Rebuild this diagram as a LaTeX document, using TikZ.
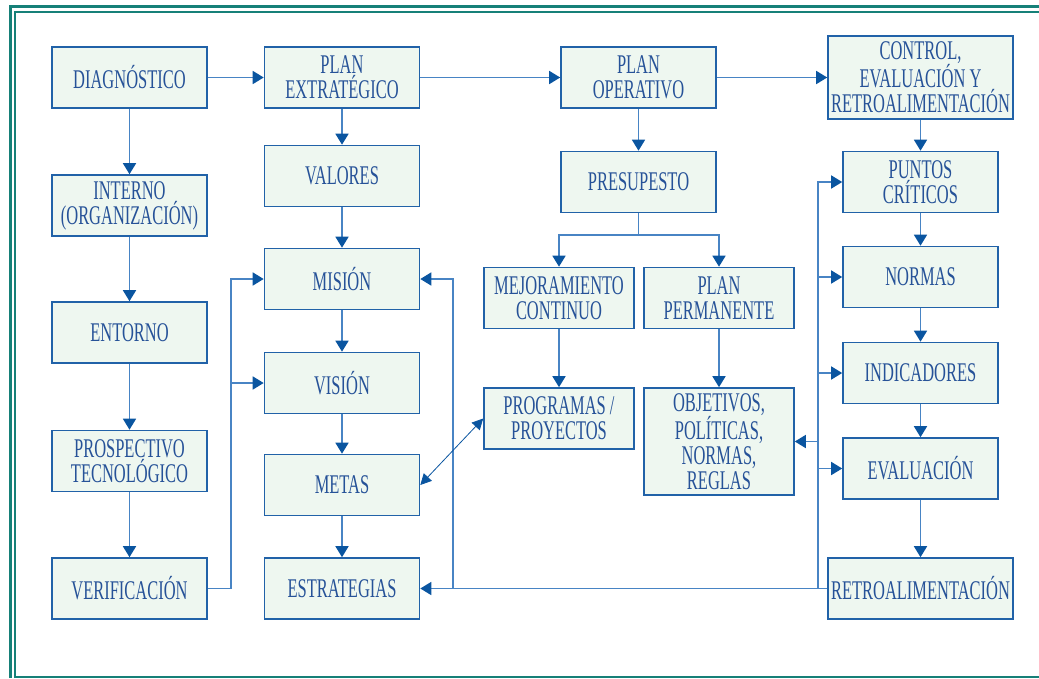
\documentclass[tikz,border=0pt]{standalone}
\usepackage{fontspec}
\newfontfamily\condserif[FakeStretch=0.61]{Liberation Serif}
\usetikzlibrary{arrows.meta}
\definecolor{boxfill}{RGB}{238,247,240}
\definecolor{boxline}{RGB}{33,98,168}
\definecolor{linkblue}{RGB}{72,132,196}
\definecolor{tipblue}{RGB}{10,85,160}
\definecolor{txtblue}{RGB}{38,82,152}
\definecolor{frameteal}{RGB}{22,128,120}
\newcommand\boxtext{\condserif\fontsize{27}{25}\selectfont}
\begin{document}
\begin{tikzpicture}[x=1pt,y=-1pt,
  box/.style={draw=boxline, line width=1.6pt, fill=boxfill, text=txtblue,
    minimum width=155pt, minimum height=61pt, inner sep=0pt, align=center, font=\boxtext},
  link/.style={draw=linkblue, line width=1.6pt,
    -{Triangle[length=11pt,width=13pt,color=tipblue]}},
  thinlink/.style={draw=tipblue, line width=0.8pt,
    {Triangle[length=11pt,width=11pt,color=tipblue]}-{Triangle[length=11pt,width=11pt,color=tipblue]}}]
\useasboundingbox (0,0) rectangle (1039,678);
% frame
\draw[frameteal, line width=3pt] (10,678) -- (10,6) -- (1039,6);
\draw[frameteal, line width=2pt] (15,678) -- (15,12) -- (1039,12);
\draw[frameteal, line width=2pt] (15,677) -- (1039,677);
% column 1
\node[box] (diag) at (129.5,77.5) {DIAGNÓSTICO};
\node[box] (intern) at (129.5,205.5) {INTERNO\\(ORGANIZACIÓN)};
\node[box] (entorno) at (129.5,332.5) {ENTORNO};
\node[box] (prosp) at (129.5,461) {PROSPECTIVO\\TECNOLÓGICO};
\node[box] (verif) at (129.5,588.5) {VERIFICACIÓN};
% column 2
\node[box] (pext) at (342,77.5) {PLAN\\EXTRATÉGICO};
\node[box] (valores) at (342,176) {VALORES};
\node[box] (mision) at (342,279) {MISIÓN};
\node[box] (vision) at (342,383) {VISIÓN};
\node[box] (metas) at (342,485) {METAS};
\node[box] (estrat) at (342,588.5) {ESTRATEGIAS};
% column 3
\node[box] (pop) at (638.5,77.5) {PLAN\\OPERATIVO};
\node[box] (presup) at (638.5,182) {PRESUPESTO};
\node[box, minimum width=150pt] (mejora) at (559,298) {MEJORAMIENTO\\CONTINUO};
\node[box, minimum width=150pt] (pperm) at (719,298) {PLAN\\PERMANENTE};
\node[box, minimum width=150pt] (progr) at (559,418.5) {PROGRAMAS /\\PROYECTOS};
\node[box, minimum width=150pt, minimum height=107pt] (objet) at (719,441.5) {OBJETIVOS,\\POLÍTICAS,\\NORMAS,\\REGLAS};
% column 4
\node[box, minimum width=185pt, minimum height=83pt] (ctrl) at (920.5,77.5) {CONTROL,\\EVALUACIÓN Y\\RETROALIMENTACIÓN};
\node[box] (puntos) at (920.5,182) {PUNTOS\\CRÍTICOS};
\node[box] (normas) at (920.5,277) {NORMAS};
\node[box] (indic) at (920.5,373) {INDICADORES};
\node[box] (evalu) at (920.5,468.5) {EVALUACIÓN};
\node[box, minimum width=185pt] (retro) at (920.5,588.5) {RETROALIMENTACIÓN};
% bus lines
\coordinate (vbus) at (231,0);
\coordinate (fbus) at (453,0);
\coordinate (rbus) at (818,0);
\coordinate (split) at (638.5,235);
% links
\draw[link] (diag) -- (pext);
\draw[link] (pext) -- (pop);
\draw[link] (pop) -- (ctrl);
\draw[link] (diag) -- (intern);
\draw[link] (intern) -- (entorno);
\draw[link] (entorno) -- (prosp);
\draw[link] (prosp) -- (verif);
\draw[link] (pext) -- (valores);
\draw[link] (valores) -- (mision);
\draw[link] (mision) -- (vision);
\draw[link] (vision) -- (metas);
\draw[link] (metas) -- (estrat);
\draw[link] (pop) -- (presup);
\draw[link] (presup.south) -- (split) -| (mejora.north);
\draw[link] (split) -| (pperm.north);
\draw[link] (mejora) -- (progr);
\draw[link] (pperm) -- (objet);
\draw[link] (ctrl) -- (puntos);
\draw[link] (puntos) -- (normas);
\draw[link] (normas) -- (indic);
\draw[link] (indic) -- (evalu);
\draw[link] (evalu) -- (retro);
\draw[link] (verif.east) -- (verif.east -| vbus) |- (mision.west);
\draw[link] (vision.west -| vbus) -- (vision.west);
\draw[link] (retro.west) -- (estrat.east);
\draw[link] (estrat.east -| fbus) |- (mision.east);
\draw[link] (retro.west -| rbus) |- (puntos.west);
\draw[link] (normas.west -| rbus) -- (normas.west);
\draw[link] (indic.west -| rbus) -- (indic.west);
\draw[link] (evalu.west -| rbus) -- (evalu.west);
\draw[link] (objet.east -| rbus) -- (objet.east);
\draw[thinlink] (metas.east) -- (progr.west);
\end{tikzpicture}
\end{document}
